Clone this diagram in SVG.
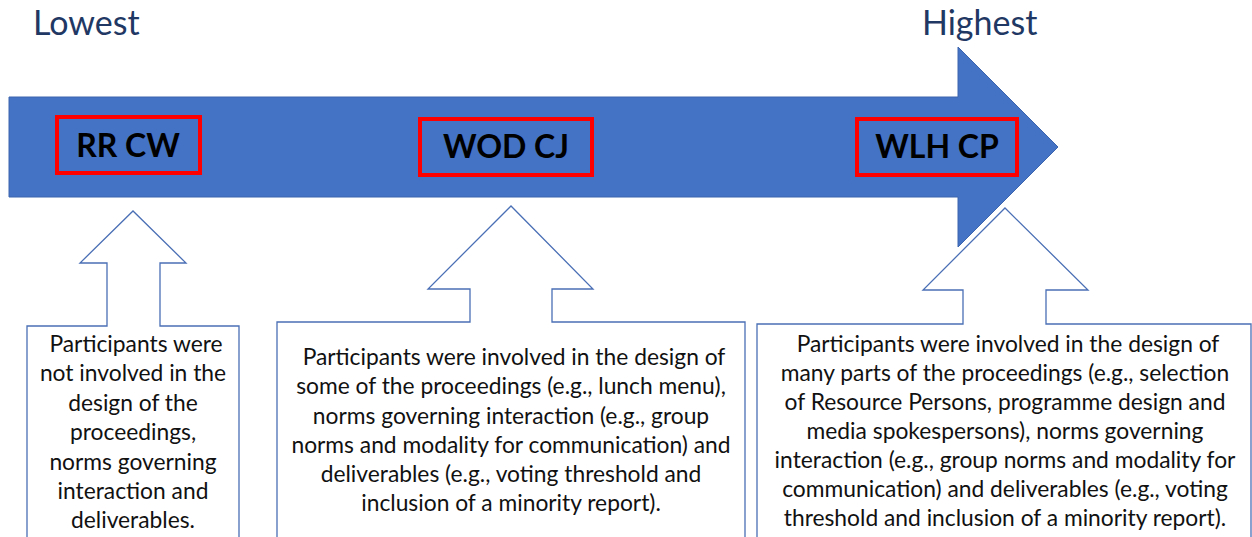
<svg xmlns="http://www.w3.org/2000/svg" width="1252" height="537" viewBox="0 0 1252 537">
<style>
.title{font-family:Lato,"Liberation Sans",sans-serif;font-size:34px;fill:#1f3864}
.lbl{font-family:Lato,"Liberation Sans",sans-serif;font-size:32px;font-weight:bold;fill:#000;text-anchor:middle}
.red{fill:none;stroke:#ff0000;stroke-width:4}
.call{fill:#fff;stroke:#4a6fb5;stroke-width:1.3}
.txt{font-family:Lato,"Liberation Sans",sans-serif;font-size:22.8px;fill:#111;text-anchor:middle}
</style>
<rect width="1252" height="537" fill="#fff"/>
<g id="titles">
<text class="title" x="33" y="35">Lowest</text>
<text class="title" x="922" y="35">Highest</text>
</g>
<g id="main-arrow">
<path d="M9,97 H958 V47 L1058,147 L958,247 V197 H9 Z" fill="#4472c4" stroke="#3a64ad" stroke-width="1"/>
</g>
<g id="node-rrcw">
<rect class="red" x="57" y="117" width="143" height="56"/>
<text class="lbl" x="128" y="157">RR CW</text>
</g>
<g id="node-wodcj">
<rect class="red" x="420" y="119" width="172" height="56"/>
<text class="lbl" x="506" y="158">WOD CJ</text>
</g>
<g id="node-wlhcp">
<rect class="red" x="857" y="119" width="160" height="56"/>
<text class="lbl" x="937" y="158">WLH CP</text>
</g>
<g id="callout-1">
<path class="call" d="M27,540 V326 H107 V263 H80 L133,211 L186,263 H160 V326 H239 V540"/>
<text class="txt"><tspan x="136" y="352">Participants were</tspan><tspan x="133" y="381">not involved in the</tspan><tspan x="133" y="411">design of the</tspan><tspan x="133" y="440">proceedings,</tspan><tspan x="133" y="470">norms governing</tspan><tspan x="133" y="499">interaction and</tspan><tspan x="133" y="528">deliverables.</tspan></text>
</g>
<g id="callout-2">
<path class="call" d="M277,540 V322 H470 V289 H428 L511,206 L593,289 H552 V322 H745 V540"/>
<text class="txt"><tspan x="514" y="365">Participants were involved in the design of</tspan><tspan x="511" y="394">some of the proceedings (e.g., lunch menu),</tspan><tspan x="511" y="424">norms governing interaction (e.g., group</tspan><tspan x="511" y="453">norms and modality for communication) and</tspan><tspan x="511" y="482">deliverables (e.g., voting threshold and</tspan><tspan x="511" y="511">inclusion of a minority report).</tspan></text>
</g>
<g id="callout-3">
<path class="call" d="M757,540 V324 H963 V290 H923 L1005,208 L1088,290 H1046 V324 H1251 V540"/>
<text class="txt"><tspan x="1008" y="352">Participants were involved in the design of</tspan><tspan x="1005" y="381">many parts of the proceedings (e.g., selection</tspan><tspan x="1005" y="410">of Resource Persons, programme design and</tspan><tspan x="1005" y="439">media spokespersons), norms governing</tspan><tspan x="1005" y="468">interaction (e.g., group norms and modality for</tspan><tspan x="1005" y="497">communication) and deliverables (e.g., voting</tspan><tspan x="1005" y="526">threshold and inclusion of a minority report).</tspan></text>
</g>
</svg>
